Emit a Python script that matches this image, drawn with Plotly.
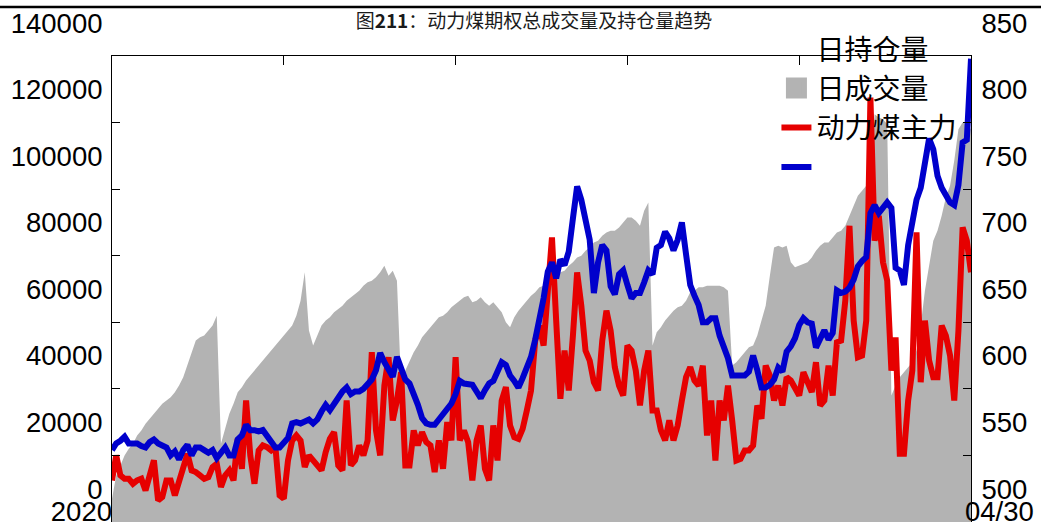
import pandas as pd
import plotly.graph_objects as go

# ---------------- data ----------------
holidays = ["2020-10-01", "2020-10-02", "2020-10-05", "2020-10-06", "2020-10-07",
            "2020-10-08", "2021-01-01", "2021-02-11", "2021-02-12", "2021-02-15",
            "2021-02-16", "2021-02-17", "2021-04-05"]
dates = [d.strftime("%Y-%m-%d") for d in pd.bdate_range("2020-06-30", "2021-04-30")
         if d.strftime("%Y-%m-%d") not in holidays]

# gray area (left axis)
open_interest = [
    7000, 14000, 17000, 20000, 22000, 23500, 26000, 27500, 29500, 31000,
    32500, 34000, 35500, 36500, 37500, 39000, 41000, 43500, 47000, 51000,
    54500, 55500, 56000, 57500, 59000, 62000, 23500, 28000, 32500, 35500,
    39000, 40500, 42500, 44000, 45500, 47000, 48500, 50000, 51500, 53000,
    54500, 56000, 57500, 59000, 62000, 66500, 75000, 57500, 53000, 56000,
    59000, 60500, 61500, 63000, 64000, 65000, 66500, 67500, 68500, 69500,
    71000, 72000, 72500, 73500, 75000, 77000, 74000, 75500, 72500, 41000,
    45500, 48500, 51000, 53000, 55500, 57000, 58500, 60000, 61500, 62000,
    63000, 64500, 65500, 66500, 67500, 68000, 66000, 66500, 67500, 66000,
    65000, 66000, 64500, 63000, 60000, 58500, 61500, 63500, 65000, 66500,
    68000, 69000, 70500, 71000, 72000, 72500, 73500, 75000, 75500, 77000,
    78000, 79500, 80000, 81500, 82500, 84000, 84500, 86000, 87000, 87500,
    87500, 88500, 90000, 91500, 91500, 90500, 89000, 93500, 96000, 53000,
    57000, 58500, 60500, 62000, 63500, 64500, 65000, 66500, 69000, 69500,
    70500, 70500, 71000, 71000, 71000, 71000, 70500, 69500, 47000, 48000,
    49500, 51000, 52500, 53000, 56000, 60500, 65000, 74000, 82500, 83000,
    82500, 83000, 78000, 76500, 77000, 77500, 78000, 79500, 81500, 83000,
    84000, 84000, 85500, 87000, 87500, 89000, 92000, 95000, 98000, 99500,
    101000, 104000, 122500, 121500, 121000, 119500, 38000, 41000, 43500, 45000,
    46500, 48000, 51500, 59000, 69500, 77000, 84500, 87500, 92000, 97500,
    101000, 108500, 118000, 120000, 119500, 118000]

# red line (left axis)
volume = [
    12500, 20000, 14000, 13000, 13000, 11500, 12500, 13000, 9500, 14000,
    18500, 6500, 7500, 12500, 12500, 8000, 12500, 17000, 20500, 15500,
    15000, 14000, 13000, 13500, 16500, 17500, 10500, 14000, 15500, 12500,
    25000, 16000, 36500, 20000, 11500, 21500, 23000, 22500, 21500, 22500,
    8000, 7000, 18500, 24500, 26000, 24500, 16500, 20000, 18500, 17000,
    15500, 21000, 25000, 27000, 17000, 15500, 36500, 17000, 18500, 23000,
    20000, 24500, 51000, 27500, 20000, 41000, 49500, 30500, 36500, 45000,
    17000, 17000, 27500, 23000, 27000, 24000, 23000, 15000, 24500, 16000,
    30000, 24500, 49500, 24500, 27500, 24000, 12500, 24500, 29000, 16000,
    12500, 29000, 18500, 36500, 40500, 29000, 25500, 25000, 28000, 33500,
    39500, 54500, 59000, 53000, 69500, 85500, 60500, 37000, 51500, 39500,
    56000, 75000, 65000, 51500, 48500, 42000, 39500, 54500, 63500, 57500,
    46500, 41000, 38000, 53000, 51500, 45500, 35000, 45500, 51500, 33500,
    33500, 27500, 24500, 30500, 24500, 29000, 36500, 43500, 46500, 42500,
    41000, 47000, 26000, 36500, 18500, 36500, 30500, 41000, 30500, 18500,
    19000, 21500, 21500, 23000, 35000, 31000, 47000, 44000, 36500, 41000,
    35000, 43500, 42500, 40000, 38000, 45000, 42500, 39000, 48000, 35000,
    36500, 47000, 38000, 54000, 54500, 66500, 89000, 60500, 49500, 50000,
    60500, 127500, 84500, 92000, 78000, 72500, 45500, 55500, 20500, 20500,
    36500, 45500, 87000, 42000, 60500, 48500, 43500, 43500, 59000, 56000,
    50000, 36500, 57500, 88500, 84500, 75000]

# blue line (right axis)
price = [
    554, 559, 561, 564, 559, 559, 559, 557, 556, 560,
    562, 559, 557, 556, 550, 553, 547, 554, 558, 550,
    556, 556, 554, 552, 554, 548, 552, 556, 550, 550,
    562, 565, 573, 569, 569, 568, 569, 565, 561, 556,
    556, 560, 563, 574, 575, 574, 576, 577, 574, 577,
    583, 588, 584, 589, 593, 598, 601, 596, 598, 598,
    600, 603, 607, 614, 627, 620, 614, 609, 624, 614,
    607, 604, 597, 588, 578, 574, 573, 573, 577, 581,
    584, 589, 596, 606, 604, 604, 603, 598, 593, 599,
    604, 606, 614, 620, 618, 610, 606, 601, 608, 616,
    624, 637, 652, 668, 688, 695, 683, 697, 693, 703,
    728, 752, 742, 728, 712, 672, 695, 708, 704, 677,
    671, 686, 689, 678, 668, 672, 672, 680, 689, 686,
    706, 708, 718, 713, 704, 712, 725, 701, 678, 670,
    663, 650, 650, 653, 653, 640, 632, 623, 610, 610,
    610, 610, 613, 625, 614, 601, 601, 603, 607, 616,
    613, 628, 632, 638, 648, 653, 650, 649, 631, 638,
    644, 637, 642, 674, 672, 673, 676, 682, 692, 696,
    699, 732, 738, 732, 736, 740, 736, 691, 689, 678,
    708, 725, 742, 751, 768, 788, 780, 760, 751, 746,
    740, 738, 753, 785, 787, 848]

legend_names = ["日持仓量", "日成交量", "动力煤主力", " "]
left_ticks = [0, 20000, 40000, 60000, 80000, 100000, 120000, 140000]
right_ticks = [500, 550, 600, 650, 700, 750, 800, 850]
x_labels = ["2020", "04/30"]
title_text = "图<b>211</b>：动力煤期权总成交量及持仓量趋势"

N = len(dates)
GRAY = "#b3b3b3"
RED = "#e60000"
BLUE = "#0000cc"
NUM_FONT = dict(family="Liberation Sans, Arial, sans-serif", size=27.5, color="black")
CJK = "Noto Sans CJK SC"

fig = go.Figure()
fig.add_trace(go.Scatter(x=dates, y=open_interest, mode="lines",
                         line=dict(width=0, color=GRAY), fill="tozeroy",
                         fillcolor=GRAY, showlegend=False, hoverinfo="skip"))
fig.add_trace(go.Scatter(x=[None], y=[None], mode="lines", xaxis="x3", yaxis="y",
                         line=dict(color="rgba(0,0,0,0)", width=1),
                         name=legend_names[0]))
fig.add_trace(go.Scatter(x=[None], y=[None], mode="markers", xaxis="x3", yaxis="y",
                         marker=dict(symbol="square", size=16, color=GRAY,
                                     line=dict(color=GRAY, width=5)),
                         name=legend_names[1]))
fig.add_trace(go.Scatter(x=dates, y=volume, mode="lines",
                         line=dict(color=RED, width=6), name=legend_names[2]))
fig.add_trace(go.Scatter(x=dates, y=price, mode="lines", xaxis="x2", yaxis="y2",
                         line=dict(color=BLUE, width=6), name=legend_names[3]))

fig.update_layout(
    template="none",
    width=1041, height=524,
    margin=dict(l=112, r=70, t=56, b=2, pad=0, autoexpand=False),
    paper_bgcolor="white", plot_bgcolor="white",
    title=dict(text=title_text, x=534 / 1041, xanchor="center",
               y=1 - 21 / 524, yanchor="middle", xref="container", yref="container",
               automargin=False,
               font=dict(family=CJK, size=19, color="#1a1a1a")),
    xaxis=dict(type="category", range=[0, N - 1], showgrid=False, zeroline=False,
               showline=False, ticks="", tickmode="array", automargin=False,
               tickvals=[dates[0]], ticktext=[x_labels[0]],
               ticklabelposition="outside left", ticklabelstandoff=-30,
               tickfont=NUM_FONT),
    xaxis2=dict(type="category", overlaying="x", side="bottom", anchor="y2",
                range=[0, N - 1], showgrid=False, zeroline=False, showline=False,
                automargin=False, ticks="", tickmode="array",
                tickvals=[dates[-1]], ticktext=[x_labels[1]],
                ticklabelposition="outside right", ticklabelstandoff=-30,
                ticklabelshift=-6, tickfont=NUM_FONT),
    xaxis3=dict(type="linear", overlaying="x", side="top", anchor="y",
                range=[0, N - 1], showgrid=False, zeroline=False, showline=True,
                automargin=False, linecolor="black", linewidth=1, ticks="inside",
                ticklen=9, tickcolor="black", tickmode="array",
                tickvals=[0, 41, 82, 123, 164, 205], showticklabels=False),
    yaxis=dict(range=[0, 140000], showgrid=False, zeroline=False, showline=True,
               automargin=False, linecolor="black", linewidth=1, ticks="inside",
               ticklen=8, tickcolor="black", tickmode="array", tickvals=left_ticks,
               ticktext=[str(v) for v in left_ticks], ticklabelshift=-33,
               ticklabelstandoff=3, ticklabeloverflow="allow", tickfont=NUM_FONT),
    yaxis2=dict(range=[500, 850], overlaying="y", side="right", anchor="x2",
                automargin=False, showgrid=False, zeroline=False, showline=True,
                linecolor="black", linewidth=1, ticks="inside", ticklen=8,
                tickcolor="black", tickmode="array", tickvals=right_ticks,
                ticktext=[str(v) for v in right_ticks], ticklabelshift=-33,
                ticklabelstandoff=4, ticklabeloverflow="allow", tickfont=NUM_FONT),
    showlegend=True,
    legend=dict(x=0.7735, xanchor="left", y=1.0687, yanchor="top",
                bgcolor="rgba(0,0,0,0)", borderwidth=0,
                font=dict(family=CJK, size=28, color="black"),
                traceorder="normal", itemwidth=30, tracegroupgap=0),
)

fig.add_shape(type="line", xref="paper", yref="paper",
              x0=-112 / 859, x1=929 / 859, y0=1 + 49 / 466, y1=1 + 49 / 466,
              line=dict(color="black", width=2.5))

fig.write_html("out.html",
               config={"displayModeBar": False},
               post_script="document.body.style.margin='0px';"
                           "document.body.style.padding='0px';")
